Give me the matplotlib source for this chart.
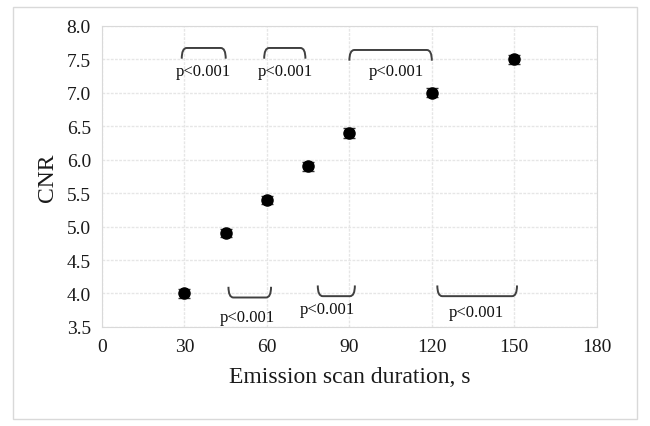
import matplotlib.pyplot as plt
from matplotlib.path import Path
from matplotlib.patches import PathPatch, Rectangle

# CNR vs emission scan duration
duration = [30, 45, 60, 75, 90, 120, 150]
cnr = [4.0, 4.9, 5.4, 5.9, 6.4, 7.0, 7.5]
cnr_err = [0.07, 0.06, 0.06, 0.07, 0.07, 0.07, 0.07]

# significance brackets: (start, end, level, direction of the ends)
brackets = [(29, 45, 7.67, 1), (59, 74, 7.67, 1), (90, 120, 7.64, 1),
            (46, 61.5, 3.94, -1), (78.5, 92, 3.96, -1), (122, 151, 3.96, -1)]
bracket_labels = ["p<0.001"] * 6
label_pos = [(37, 7.33), (66.5, 7.33), (107, 7.33), (53, 3.65), (82, 3.77), (136, 3.73)]

plt.rcParams['font.family'] = ['Liberation Serif', 'DejaVu Serif']

fig = plt.figure(figsize=(6.5, 4.27), dpi=100)
ax = fig.add_axes([0.157, 0.232, 0.761, 0.705])

fig.patches.append(Rectangle((13 / 650, 7 / 427), 624 / 650, 412 / 427, transform=fig.transFigure,
                             fill=False, edgecolor="#d9d9d9", linewidth=1))

ax.errorbar(duration, cnr, yerr=cnr_err, fmt="o", color="black", markersize=8,
            ecolor="#333333", elinewidth=1, capsize=4, capthick=1, zorder=3)

# brackets with rounded ends
for (x0, x1, yl, d), txt, (tx, ty) in zip(brackets, bracket_labels, label_pos):
    h = 0.16 * d
    dx = 1.8
    verts = [(x0, yl - h), (x0, yl), (x0 + dx, yl),
             (x1 - dx, yl), (x1, yl), (x1, yl - h)]
    codes = [Path.MOVETO, Path.CURVE3, Path.CURVE3, Path.LINETO, Path.CURVE3, Path.CURVE3]
    ax.add_patch(PathPatch(Path(verts, codes), fill=False, edgecolor="#404040", linewidth=1.4, zorder=4))
    ax.text(tx, ty, txt, ha="center", va="center", fontsize=12, color="#111111")

ax.set_xlim(0, 180)
ax.set_ylim(3.5, 8.0)
ax.set_xticks(range(0, 181, 30))
ax.set_yticks([3.5 + 0.5 * i for i in range(10)])
ax.set_yticklabels([f"{3.5 + 0.5 * i:.1f}" for i in range(10)])
ax.grid(True, color="#e6e6e6", linewidth=1, linestyle=(0, (2, 1)))
ax.set_axisbelow(True)
for s in ax.spines.values():
    s.set_color("#d9d9d9")
ax.tick_params(length=0, labelsize=14, pad=8, colors="#1a1a1a")

ax.set_xlabel("Emission scan duration, s", fontsize=17, labelpad=8, color="#1a1a1a")
ax.set_ylabel("CNR", fontsize=17, labelpad=6, color="#1a1a1a")

plt.savefig("out.png", dpi=100)
